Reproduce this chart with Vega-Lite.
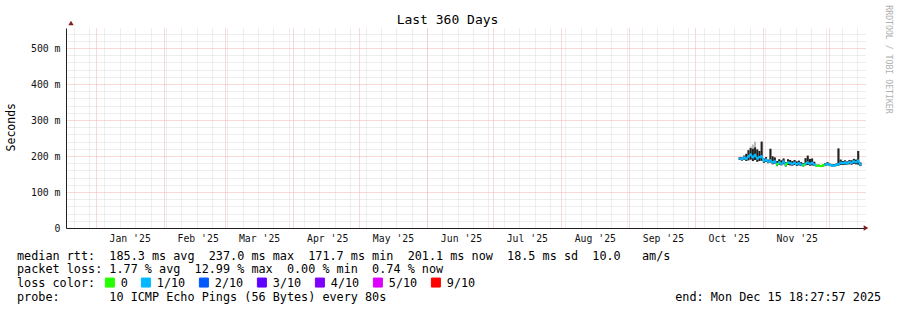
{
  "$schema": "https://vega.github.io/schema/vega-lite/v6.json",
  "width": 800,
  "height": 200,
  "autosize": "none",
  "padding": {"left": 66, "top": 28, "right": 31, "bottom": 82},
  "background": "white",
  "config": {"view": {"stroke": null}, "font": "DejaVu Sans Mono"},
  "title": {"text": "Last 360 Days", "font": "DejaVu Sans Mono", "fontSize": 13, "fontWeight": "normal", "color": "#000", "anchor": "middle", "frame": "group", "dx": -18.5, "offset": -32, "baseline": "alphabetic"},
  "data": {"values": [
    {"t": "2025-10-21T12:00", "med": 193, "lo": 189, "hi": 197, "mx": 197, "loss": "1/10"},
    {"t": "2025-10-22T12:00", "med": 191, "lo": 187, "hi": 196, "mx": 196, "loss": "1/10"},
    {"t": "2025-10-23T12:00", "med": 196, "lo": 190, "hi": 201, "mx": 201, "loss": "1/10"},
    {"t": "2025-10-24T12:00", "med": 192, "lo": 186, "hi": 206, "mx": 206, "loss": "1/10"},
    {"t": "2025-10-25T12:00", "med": 199, "lo": 188, "hi": 216, "mx": 218, "loss": "1/10"},
    {"t": "2025-10-26T12:00", "med": 204, "lo": 190, "hi": 222, "mx": 226, "loss": "1/10"},
    {"t": "2025-10-27T12:00", "med": 196, "lo": 186, "hi": 220, "mx": 232, "loss": "1/10"},
    {"t": "2025-10-28T12:00", "med": 203, "lo": 189, "hi": 224, "mx": 240, "loss": "1/10"},
    {"t": "2025-10-29T12:00", "med": 193, "lo": 184, "hi": 218, "mx": 220, "loss": "1/10"},
    {"t": "2025-10-30T12:00", "med": 197, "lo": 186, "hi": 214, "mx": 214, "loss": "1/10"},
    {"t": "2025-10-31T12:00", "med": 199, "lo": 187, "hi": 240, "mx": 240, "loss": "1/10"},
    {"t": "2025-11-01T12:00", "med": 186, "lo": 181, "hi": 193, "mx": 193, "loss": "1/10"},
    {"t": "2025-11-02T12:00", "med": 190, "lo": 184, "hi": 197, "mx": 197, "loss": "1/10"},
    {"t": "2025-11-03T12:00", "med": 184, "lo": 180, "hi": 190, "mx": 190, "loss": "1/10"},
    {"t": "2025-11-04T12:00", "med": 188, "lo": 182, "hi": 220, "mx": 220, "loss": "1/10"},
    {"t": "2025-11-05T12:00", "med": 182, "lo": 177, "hi": 199, "mx": 199, "loss": "1/10"},
    {"t": "2025-11-06T12:00", "med": 185, "lo": 179, "hi": 196, "mx": 196, "loss": "1/10"},
    {"t": "2025-11-07T12:00", "med": 176, "lo": 172, "hi": 186, "mx": 186, "loss": "0"},
    {"t": "2025-11-08T12:00", "med": 182, "lo": 176, "hi": 191, "mx": 191, "loss": "1/10"},
    {"t": "2025-11-09T12:00", "med": 178, "lo": 174, "hi": 188, "mx": 188, "loss": "1/10"},
    {"t": "2025-11-10T12:00", "med": 184, "lo": 177, "hi": 193, "mx": 193, "loss": "1/10"},
    {"t": "2025-11-11T12:00", "med": 175, "lo": 171, "hi": 183, "mx": 183, "loss": "0"},
    {"t": "2025-11-12T12:00", "med": 182, "lo": 175, "hi": 191, "mx": 191, "loss": "1/10"},
    {"t": "2025-11-13T12:00", "med": 180, "lo": 174, "hi": 189, "mx": 189, "loss": "1/10"},
    {"t": "2025-11-14T12:00", "med": 178, "lo": 173, "hi": 186, "mx": 186, "loss": "1/10"},
    {"t": "2025-11-15T12:00", "med": 181, "lo": 175, "hi": 189, "mx": 189, "loss": "1/10"},
    {"t": "2025-11-16T12:00", "med": 177, "lo": 172, "hi": 185, "mx": 185, "loss": "1/10"},
    {"t": "2025-11-17T12:00", "med": 180, "lo": 174, "hi": 187, "mx": 187, "loss": "1/10"},
    {"t": "2025-11-18T12:00", "med": 176, "lo": 172, "hi": 183, "mx": 183, "loss": "1/10"},
    {"t": "2025-11-19T12:00", "med": 174, "lo": 171, "hi": 180, "mx": 180, "loss": "0"},
    {"t": "2025-11-20T12:00", "med": 179, "lo": 174, "hi": 194, "mx": 194, "loss": "1/10"},
    {"t": "2025-11-21T12:00", "med": 182, "lo": 175, "hi": 201, "mx": 201, "loss": "1/10"},
    {"t": "2025-11-22T12:00", "med": 178, "lo": 173, "hi": 192, "mx": 192, "loss": "1/10"},
    {"t": "2025-11-23T12:00", "med": 181, "lo": 174, "hi": 193, "mx": 193, "loss": "1/10"},
    {"t": "2025-11-24T12:00", "med": 176, "lo": 172, "hi": 184, "mx": 184, "loss": "1/10"},
    {"t": "2025-11-25T12:00", "med": 173, "lo": 171, "hi": 176, "mx": 176, "loss": "0"},
    {"t": "2025-11-26T12:00", "med": 173, "lo": 171, "hi": 176, "mx": 176, "loss": "0"},
    {"t": "2025-11-27T12:00", "med": 172, "lo": 170, "hi": 175, "mx": 175, "loss": "0"},
    {"t": "2025-11-28T12:00", "med": 174, "lo": 171, "hi": 177, "mx": 177, "loss": "0"},
    {"t": "2025-11-29T12:00", "med": 176, "lo": 172, "hi": 180, "mx": 180, "loss": "1/10"},
    {"t": "2025-11-30T12:00", "med": 178, "lo": 174, "hi": 183, "mx": 183, "loss": "1/10"},
    {"t": "2025-12-01T12:00", "med": 175, "lo": 172, "hi": 179, "mx": 179, "loss": "1/10"},
    {"t": "2025-12-02T12:00", "med": 174, "lo": 171, "hi": 178, "mx": 178, "loss": "1/10"},
    {"t": "2025-12-03T12:00", "med": 173, "lo": 171, "hi": 177, "mx": 177, "loss": "1/10"},
    {"t": "2025-12-04T12:00", "med": 175, "lo": 172, "hi": 179, "mx": 179, "loss": "1/10"},
    {"t": "2025-12-05T12:00", "med": 177, "lo": 173, "hi": 221, "mx": 221, "loss": "1/10"},
    {"t": "2025-12-06T12:00", "med": 181, "lo": 175, "hi": 190, "mx": 190, "loss": "1/10"},
    {"t": "2025-12-07T12:00", "med": 180, "lo": 175, "hi": 186, "mx": 186, "loss": "1/10"},
    {"t": "2025-12-08T12:00", "med": 182, "lo": 176, "hi": 188, "mx": 188, "loss": "1/10"},
    {"t": "2025-12-09T12:00", "med": 179, "lo": 175, "hi": 185, "mx": 185, "loss": "1/10"},
    {"t": "2025-12-10T12:00", "med": 183, "lo": 177, "hi": 189, "mx": 189, "loss": "1/10"},
    {"t": "2025-12-11T12:00", "med": 181, "lo": 176, "hi": 188, "mx": 188, "loss": "1/10"},
    {"t": "2025-12-12T12:00", "med": 185, "lo": 178, "hi": 192, "mx": 192, "loss": "1/10"},
    {"t": "2025-12-13T12:00", "med": 183, "lo": 177, "hi": 190, "mx": 190, "loss": "1/10"},
    {"t": "2025-12-14T12:00", "med": 187, "lo": 176, "hi": 214, "mx": 214, "loss": "1/10"},
    {"t": "2025-12-15T12:00", "med": 176, "lo": 172, "hi": 182, "mx": 182, "loss": "0"}
  ]},
  "resolve": {"axis": {"x": "independent", "y": "independent"}},
  "layer": [
    {
      "mark": {"type": "bar", "color": "#b8b8b8", "width": 2},
      "encoding": {
        "x": {
          "field": "t", "type": "temporal",
          "scale": {"domain": [{"year": 2024, "month": 12, "date": 20, "hours": 18, "minutes": 27, "seconds": 57}, {"year": 2025, "month": 12, "date": 15, "hours": 18, "minutes": 27, "seconds": 57}]},
          "axis": {"orient": "bottom", "grid": true, "gridColor": "#dcdcdc", "gridDash": [1, 1], "gridWidth": 1, "tickCount": {"interval": "week", "step": 1}, "labels": false, "ticks": false, "domain": false, "title": null}
        },
        "y": {
          "field": "lo", "type": "quantitative",
          "scale": {"domain": [0, 555.56], "nice": false, "zero": true},
          "axis": {"orient": "left", "values": [20, 40, 60, 80, 120, 140, 160, 180, 220, 240, 260, 280, 320, 340, 360, 380, 420, 440, 460, 480, 520, 540], "grid": true, "gridColor": "#dcdcdc", "gridDash": [1, 1], "labels": false, "ticks": false, "domain": false,
            "title": "end:\u00a0Mon\u00a0Dec\u00a015\u00a018:27:57\u00a02025", "titleAngle": 0, "titleX": 814.7, "titleY": 272.7, "titleAlign": "right", "titleBaseline": "alphabetic", "titleFont": "DejaVu Sans Mono", "titleFontSize": 11.8, "titleFontWeight": "normal", "titleColor": "#000"}
        },
        "y2": {"field": "mx"}
      }
    },
    {
      "mark": {"type": "bar", "color": "#222222", "width": 2},
      "encoding": {
        "x": {
          "field": "t", "type": "temporal",
          "axis": {"orient": "bottom", "tickCount": {"interval": "month", "step": 1}, "format": "%b '%y", "labelExpr": "month(datum.value) == 11 ? '' : datum.label", "grid": true, "gridColor": "#f2b0b0", "gridDash": [1, 1], "gridWidth": 1,
            "labelAlign": "center", "labelOffset": 34, "labelBound": true, "labelFlush": false, "labelOverlap": false, "labelFont": "DejaVu Sans Mono", "labelFontSize": 9.8, "labelColor": "#111", "labelPadding": 5, "labelBaseline": "top",
            "ticks": false, "domainColor": "#202020", "domainWidth": 1,
            "title": [
              "median\u00a0rtt:\u00a0\u00a0185.3\u00a0ms\u00a0avg\u00a0\u00a0237.0\u00a0ms\u00a0max\u00a0\u00a0171.7\u00a0ms\u00a0min\u00a0\u00a0201.1\u00a0ms\u00a0now\u00a0\u00a018.5\u00a0ms\u00a0sd\u00a0\u00a010.0\u00a0\u00a0\u00a0am/s",
              "packet\u00a0loss:\u00a01.77\u00a0%\u00a0avg\u00a0\u00a012.99\u00a0%\u00a0max\u00a0\u00a00.00\u00a0%\u00a0min\u00a0\u00a00.74\u00a0%\u00a0now",
              "loss\u00a0color:",
              "probe:\u00a0\u00a0\u00a0\u00a0\u00a0\u00a0\u00a010\u00a0ICMP\u00a0Echo\u00a0Pings\u00a0(56\u00a0Bytes)\u00a0every\u00a080s"
            ],
            "titleX": -49.5, "titleY": 22, "titleAlign": "left", "titleBaseline": "top", "titleLineHeight": 13.9, "titleFont": "DejaVu Sans Mono", "titleFontSize": 11.8, "titleFontWeight": "normal", "titleColor": "#000"}
        },
        "y": {
          "field": "lo", "type": "quantitative",
          "axis": {"orient": "left", "values": [0, 100, 200, 300, 400, 500], "grid": true, "gridColor": "#f2b0b0", "gridDash": [1, 1], "gridWidth": 1,
            "labelExpr": "datum.value == 0 ? '0\u00a0\u00a0' : datum.value + '\u00a0m'", "labelFont": "DejaVu Sans Mono", "labelFontSize": 9.8, "labelColor": "#111", "labelPadding": 6,
            "ticks": false, "domainColor": "#202020", "domainWidth": 1,
            "title": "Seconds", "titleFont": "DejaVu Sans Mono", "titleFontSize": 11.5, "titleFontWeight": "normal", "titleColor": "#000", "titleAngle": -90, "titleX": -55, "titleY": 98.7, "titleAlign": "center", "titleBaseline": "middle"}
        },
        "y2": {"field": "hi"}
      }
    },
    {
      "mark": {"type": "square", "stroke": "#000", "strokeWidth": 1, "opacity": 0, "size": 81},
      "encoding": {
        "x": {"field": "t", "type": "temporal", "axis": null},
        "y": {"field": "med", "type": "quantitative", "axis": null},
        "fill": {"field": "loss", "type": "nominal",
          "scale": {"domain": ["0", "1/10", "2/10", "3/10", "4/10", "5/10", "9/10"], "range": ["#26ff00", "#00b8ff", "#0059ff", "#5e00ff", "#7e00ff", "#dd00ff", "#ff0000"]},
          "legend": {"orient": "none", "legendX": 38, "legendY": 248.5, "direction": "horizontal", "title": null, "padding": 0,
            "symbolType": "square", "symbolSize": 81, "symbolStrokeWidth": 1, "symbolStrokeColor": "#000", "symbolOpacity": 1,
            "labelFont": "DejaVu Sans Mono", "labelFontSize": 11.8, "labelColor": "#000", "labelOffset": 5, "columnPadding": 11,
            "encode": {"symbols": {"update": {"stroke": {"value": "#000"}, "strokeWidth": {"value": 1}, "opacity": {"value": 1}}}}}}
      }
    },
    {
      "transform": [
        {"window": [{"op": "lead", "field": "t", "as": "t2"}, {"op": "lead", "field": "med", "as": "med2"}], "sort": [{"field": "t"}]},
        {"filter": "datum.t2 != null"}
      ],
      "mark": {"type": "rule", "strokeWidth": 2, "strokeCap": "square"},
      "encoding": {
        "x": {"field": "t", "type": "temporal", "axis": null},
        "x2": {"field": "t2"},
        "y": {"field": "med", "type": "quantitative",
          "axis": {"orient": "right", "domain": false, "ticks": false, "labels": false, "grid": false,
            "title": "RRDTOOL\u00a0/\u00a0TOBI\u00a0OETIKER", "titleAngle": 90, "titleX": 21, "titleY": 31, "titleAlign": "center", "titleBaseline": "middle", "titleFont": "DejaVu Sans Mono", "titleFontSize": 8.2, "titleFontWeight": "normal", "titleColor": "#b0b0b0"}},
        "y2": {"field": "med2"},
        "color": {"field": "loss", "type": "nominal",
          "scale": {"domain": ["0", "1/10", "2/10", "3/10", "4/10", "5/10", "9/10"], "range": ["#26ff00", "#00b8ff", "#0059ff", "#5e00ff", "#7e00ff", "#dd00ff", "#ff0000"]},
          "legend": null}
      }
    },
    {
      "data": {"values": [{"k": "y"}]},
      "mark": {"type": "point", "shape": "triangle-up", "filled": true, "color": "#801f1f", "size": 28, "opacity": 1, "yOffset": -5},
      "encoding": {
        "x": {"datum": {"year": 2024, "month": 12, "date": 20, "hours": 18, "minutes": 27, "seconds": 57}, "type": "temporal", "axis": null},
        "y": {"datum": 555.56, "type": "quantitative", "axis": null}
      }
    },
    {
      "data": {"values": [{"k": "x"}]},
      "mark": {"type": "point", "shape": "triangle-right", "filled": true, "color": "#801f1f", "size": 28, "opacity": 1, "xOffset": 5},
      "encoding": {
        "x": {"datum": {"year": 2025, "month": 12, "date": 15, "hours": 18, "minutes": 27, "seconds": 57}, "type": "temporal", "axis": null},
        "y": {"datum": 0, "type": "quantitative", "axis": null}
      }
    }
  ]
}
